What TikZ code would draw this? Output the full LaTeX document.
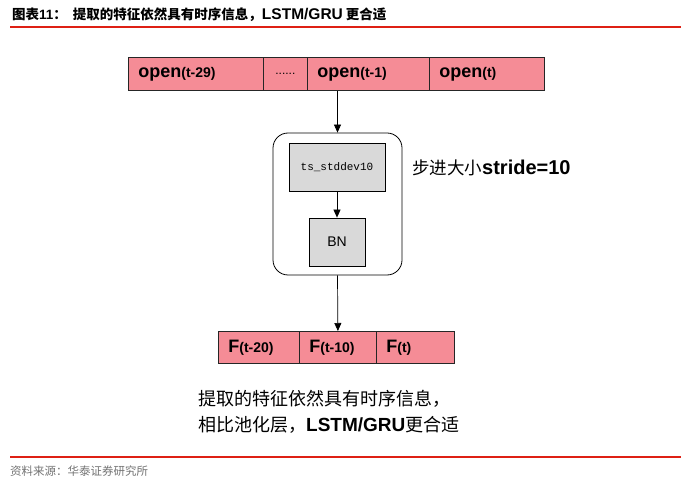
\documentclass[tikz,border=0pt]{standalone}
\usepackage{fontspec}
\setmainfont{Liberation Sans}
\setmonofont{Liberation Mono}
\newfontfamily\cjk{Noto Sans CJK SC}
\usetikzlibrary{arrows.meta}
\definecolor{cellpink}{RGB}{245,140,150}
\definecolor{boxgray}{RGB}{217,217,217}
\definecolor{rulered}{RGB}{222,32,20}
\definecolor{notegray}{RGB}{115,115,115}
\tikzset{
  cell/.style={draw=black!85, line width=0.8pt, fill=cellpink, anchor=north west,
    minimum height=#1, inner xsep=10pt, inner ysep=0pt, align=left},
  grid/.style={draw=black, line width=0.8pt, fill=boxgray, inner sep=0pt},
}
\newcommand{\cellname}[1]{{\fontsize{18}{20}\selectfont\bfseries #1}}
\newcommand{\cellidx}[1]{{\fontsize{14}{16}\selectfont\bfseries #1}}
\begin{document}
\begin{tikzpicture}[x=1pt,y=-1pt]
      \useasboundingbox (0,0) rectangle (683,486);
      \draw
        (12,15) node[anchor=west, inner sep=0pt, font=\fontsize{13.5}{15}\selectfont] (title){{\cjk\bfseries 图表}\textbf{11}{\cjk\bfseries ：}\hspace{6pt}{\cjk\bfseries 提取的特征依然具有时序信息，}{\fontsize{15.5}{15}\selectfont\bfseries LSTM/GRU}\hspace{3pt}{\cjk\bfseries 更合适}}
        (128,57) node[cell=33pt, text width=115pt] (o1){\cellname{open}\cellidx{(t-29)}}
        (263,57) node[cell=33pt, text width=24pt, align=center] (o2){\fontsize{12}{14}\selectfont ......}
        (307,57) node[cell=33pt, text width=102pt] (o3){\cellname{open}\cellidx{(t-1)}}
        (429,57) node[cell=33pt, text width=95pt] (o4){\cellname{open}\cellidx{(t)}}
        (337.5,204) node[draw=black, line width=0.8pt, rounded corners=15pt, minimum width=129pt, minimum height=142pt] (frame){}
        (337,167) node[grid, minimum width=96pt, minimum height=48pt] (ts){\fontsize{11}{12}\selectfont\ttfamily ts\_stddev10}
        (337,242) node[grid, minimum width=56pt, minimum height=48pt] (bn){\fontsize{14}{16}\selectfont BN}
        (412,168) node[anchor=west, inner sep=0pt] (stride){{\fontsize{17.5}{20}\selectfont\cjk 步进大小}{\fontsize{20}{20}\selectfont\bfseries stride=10}}
        (218,331) node[cell=32pt, text width=61pt] (f1){\cellname{F}\cellidx{(t-20)}}
        (299,331) node[cell=32pt, text width=57pt] (f2){\cellname{F}\cellidx{(t-10)}}
        (376,331) node[cell=32pt, text width=58pt] (f3){\cellname{F}\cellidx{(t)}}
        (198,390) node[anchor=north west, inner sep=0pt, align=left, font=\fontsize{18}{26}\selectfont] (note){{\cjk 提取的特征依然具有时序信息，}\\{\cjk 相比池化层，}{\fontsize{19}{26}\selectfont\bfseries LSTM/GRU}{\cjk 更合适}}
        (10,471) node[anchor=west, inner sep=0pt, text=notegray] (source){\fontsize{11.5}{13}\selectfont\cjk 资料来源：华泰证券研究所};
      \draw[rulered, line width=2pt] (10,27) -- (681,27);
      \draw[rulered, line width=2pt] (10,457) -- (681,457);
      \begin{scope}[-{Triangle[length=8pt,width=7pt]}, line width=0.7pt]
        \draw (o3.south -| frame.north) to (frame.north);
        \draw (ts) to (bn);
        \draw (frame.south) to (f2.north);
      \end{scope}
    \end{tikzpicture}
\end{document}
